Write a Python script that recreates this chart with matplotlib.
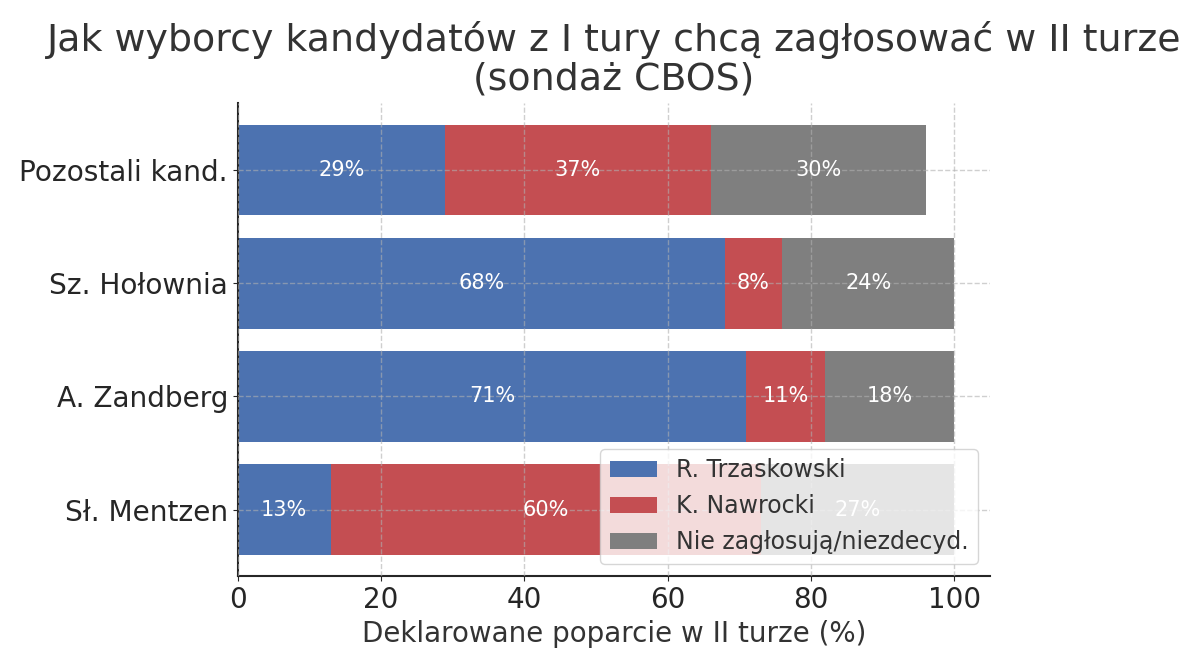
import numpy as np
import matplotlib.pyplot as plt

# data
candidates = ['Sł. Mentzen', 'A. Zandberg', 'Sz. Hołownia', 'Pozostali kand.']
trzaskowski = [13, 71, 68, 29]
nawrocki = [60, 11, 8, 37]
undecided = [27, 18, 24, 30]
series_names = ['R. Trzaskowski', 'K. Nawrocki', 'Nie zagłosują/niezdecyd.']
colors = ['#4C72B0', '#C44E52', '#7F7F7F']

fig = plt.figure(figsize=(12, 6.67), dpi=100)
ax = fig.add_axes([0.198, 0.136, 0.627, 0.709])

y = np.arange(len(candidates))
left = np.zeros(len(candidates))
for vals, name, col in zip([trzaskowski, nawrocki, undecided], series_names, colors):
    vals = np.array(vals)
    bars = ax.barh(y, vals, left=left, height=0.8, color=col, label=name)
    for b, v in zip(bars, vals):
        ax.text(b.get_x() + b.get_width() / 2, b.get_y() + b.get_height() / 2,
                f'{v}%', ha='center', va='center', color='white', fontsize=15)
    left += vals

ax.set_yticks(y)
ax.set_yticklabels(candidates, fontsize=20.2, color='#262626')
ax.set_xlim(0, 105)
ax.set_xticks([0, 20, 40, 60, 80, 100])
ax.tick_params(axis='x', labelsize=20, colors='#262626')
ax.tick_params(axis='y', colors='#262626')
ax.set_xlabel('Deklarowane poparcie w II turze (%)', fontsize=20, color='#333333')
ax.set_title('Jak wyborcy kandydatów z I tury chcą zagłosować w II turze\n(sondaż CBOS)',
             fontsize=27.3, color='#333333', linespacing=1.1, pad=10)

ax.grid(True, linestyle='--', color='#b0b0b0', alpha=0.6, linewidth=1)
ax.set_axisbelow(False)
for s in ['top', 'right']:
    ax.spines[s].set_visible(False)
for s in ['left', 'bottom']:
    ax.spines[s].set_linewidth(1.5)
    ax.spines[s].set_color('#262626')

ax.legend(loc='lower right', bbox_to_anchor=(0.984, 0.027), borderaxespad=0,
          fontsize=17, framealpha=0.8, labelcolor='#333333', labelspacing=0.5)

fig.savefig('out.png', dpi=100)
